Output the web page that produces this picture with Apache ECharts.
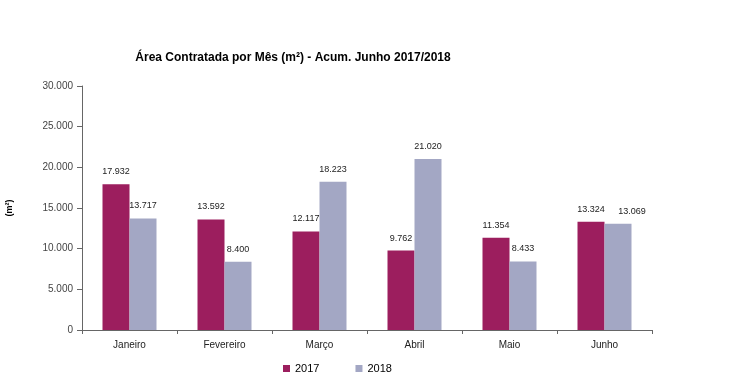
<!DOCTYPE html>
<html><head><meta charset="utf-8">
<script src="https://cdn.jsdelivr.net/npm/echarts@6/dist/echarts.min.js"></script>
<style>html,body{margin:0;padding:0;background:#fff}#c{width:740px;height:389px}</style>
</head><body><div id="c"></div>
<script>
const categories = ['Janeiro','Fevereiro','Março','Abril','Maio','Junho'];
const values2017 = [17932, 13592, 12117, 9762, 11354, 13324];
const values2018 = [13717, 8400, 18223, 21020, 8433, 13069];
const yTicks = {min: 0, max: 30000, interval: 5000};

const fmt = v => String(v).replace(/\B(?=(\d{3})+(?!\d))/g, '.');
const chart = echarts.init(document.getElementById('c'));
const font = 'Arial, "Liberation Sans", sans-serif';
const data2018 = values2018.map((v, i) => i === categories.length - 1 ? {value: v, label: {offset: [14, 0]}} : v);
chart.setOption({
  animation: false,
  title: {
    text: 'Área Contratada por Mês (m²) - Acum. Junho 2017/2018',
    left: 288, top: 47, textAlign: 'center',
    textStyle: {fontFamily: font, fontSize: 12, fontWeight: 'bold', color: '#000'}
  },
  legend: {
    bottom: 10, itemWidth: 7, itemHeight: 7, itemGap: 36,
    icon: 'rect',
    textStyle: {fontFamily: font, fontSize: 11, color: '#000'},
    left: 278
  },
  grid: {left: 82, right: 88, top: 86, bottom: 59, outerBoundsMode: 'none', containLabel: false},
  xAxis: {
    type: 'category', data: categories,
    axisLine: {lineStyle: {color: '#666'}},
    axisTick: {show: true, length: 4, lineStyle: {color: '#666'}},
    axisLabel: {fontFamily: font, fontSize: 10, color: '#222', margin: 10}
  },
  yAxis: {
    type: 'value', min: yTicks.min, max: yTicks.max, interval: yTicks.interval,
    name: '(m²)', nameLocation: 'middle', nameRotate: 90, nameGap: 68,
    nameTextStyle: {fontFamily: font, fontSize: 9, fontWeight: 'bold', color: '#000'},
    axisLine: {show: true, lineStyle: {color: '#666'}},
    axisTick: {show: true, length: 5, lineStyle: {color: '#666'}},
    splitLine: {show: false},
    axisLabel: {fontFamily: font, fontSize: 10, color: '#444', margin: 9, formatter: fmt}
  },
  series: [
    {name: '2017', type: 'bar', data: values2017, barWidth: 27, barGap: '0%',
     itemStyle: {color: '#9C1E5E'},
     label: {show: true, position: 'top', distance: 8, fontFamily: font, fontSize: 9, color: '#222', formatter: p => fmt(p.value)}},
    {name: '2018', type: 'bar', data: data2018, barWidth: 27,
     itemStyle: {color: '#A3A7C4'},
     label: {show: true, position: 'top', distance: 8, fontFamily: font, fontSize: 9, color: '#222', formatter: p => fmt(p.value)}}
  ]
});
</script></body></html>
